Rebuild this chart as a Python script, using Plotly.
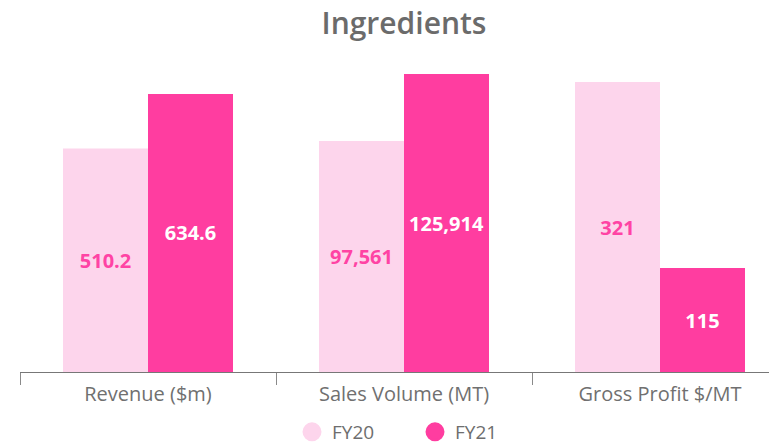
import plotly.graph_objects as go

# ---- data ----
categories = ["Revenue ($m)", "Sales Volume (MT)", "Gross Profit $/MT"]
series_names = ["FY20", "FY21"]
fy20 = [510.2, 97561, 321]
fy21 = [634.6, 125914, 115]
label_formats = [",.1f", ",.0f", ",.0f"]

# ---- style / layout constants ----
colors = ["#FDD5EC", "#FF3DA0"]
label_colors = ["#FF43A4", "#FFFFFF"]
axis_max = [712.2, 131829, 345.4]   # independent scale per category
W, H = 769, 445
ML, MR, MT, MB = 20, 0, 60, 73
CAT_PX = 256
BAR_W = 85 / 256
FONT = "Open Sans"

fig = go.Figure()
series_values = [fy20, fy21]
for i, cat in enumerate(categories):
    yname = "y" if i == 0 else f"y{i + 1}"
    for s, name in enumerate(series_names):
        val = series_values[s][i]
        fig.add_trace(go.Bar(
            x=[cat], y=[val], yaxis=yname,
            name=name, legendgroup=name, showlegend=False,
            width=BAR_W, offset=-BAR_W if s == 0 else 0,
            marker=dict(color=colors[s], line=dict(width=0)),
            text=[format(val, label_formats[i])],
            textposition="inside", insidetextanchor="middle",
            textangle=0, constraintext="none",
            textfont=dict(family=FONT, size=20, color=label_colors[s], weight="bold"),
            hoverinfo="skip",
        ))

for s, name in enumerate(series_names):
    fig.add_trace(go.Scatter(
        x=[None], y=[None], mode="markers", name=name, legendgroup=name,
        marker=dict(symbol="circle", size=16, color=colors[s],
                    line=dict(width=3, color=colors[s])),
        showlegend=True,
    ))

plot_w = W - ML - MR
plot_h = H - MT - MB
fig.update_layout(
    width=W, height=H,
    margin=dict(l=ML, r=MR, t=MT, b=MB, pad=0, autoexpand=False),
    paper_bgcolor="white", plot_bgcolor="white",
    barmode="overlay",
    font=dict(family=FONT, color="#6E6E6E"),
    title=dict(text="Ingredients", x=404 / W, xref="container", xanchor="center",
               y=1 - 23 / H, yref="container", yanchor="middle",
               font=dict(family=FONT, size=30, color="#6B6B6B", weight=600)),
    xaxis=dict(type="category", categoryorder="array", categoryarray=categories,
               range=[-0.5, -0.5 + plot_w / CAT_PX],
               tickson="boundaries", ticks="outside", ticklen=12, tickwidth=1,
               tickcolor="#8A8A8A", showline=True, linecolor="#777777", linewidth=1,
               showgrid=False, zeroline=False, ticklabelstandoff=4,
               tickfont=dict(family=FONT, size=20, color="#707070")),
    yaxis=dict(range=[0, axis_max[0]], visible=False, showgrid=False, zeroline=False),
    yaxis2=dict(range=[0, axis_max[1]], overlaying="y", visible=False,
                showgrid=False, zeroline=False),
    yaxis3=dict(range=[0, axis_max[2]], overlaying="y", visible=False,
                showgrid=False, zeroline=False),
    legend=dict(orientation="h", xref="container", x=292 / W, xanchor="left",
                yref="container", y=1 - 432 / H, yanchor="middle",
                entrywidth=78, entrywidthmode="pixels",
                font=dict(family=FONT, size=19, color="#6E6E6E"),
                itemsizing="trace", bgcolor="rgba(0,0,0,0)"),
    showlegend=True,
)

# remove the browser's default 8px body margin so the figure fills the window
fig.write_html("out.html", config={"displayModeBar": False},
               post_script="document.body.style.margin='0';")
